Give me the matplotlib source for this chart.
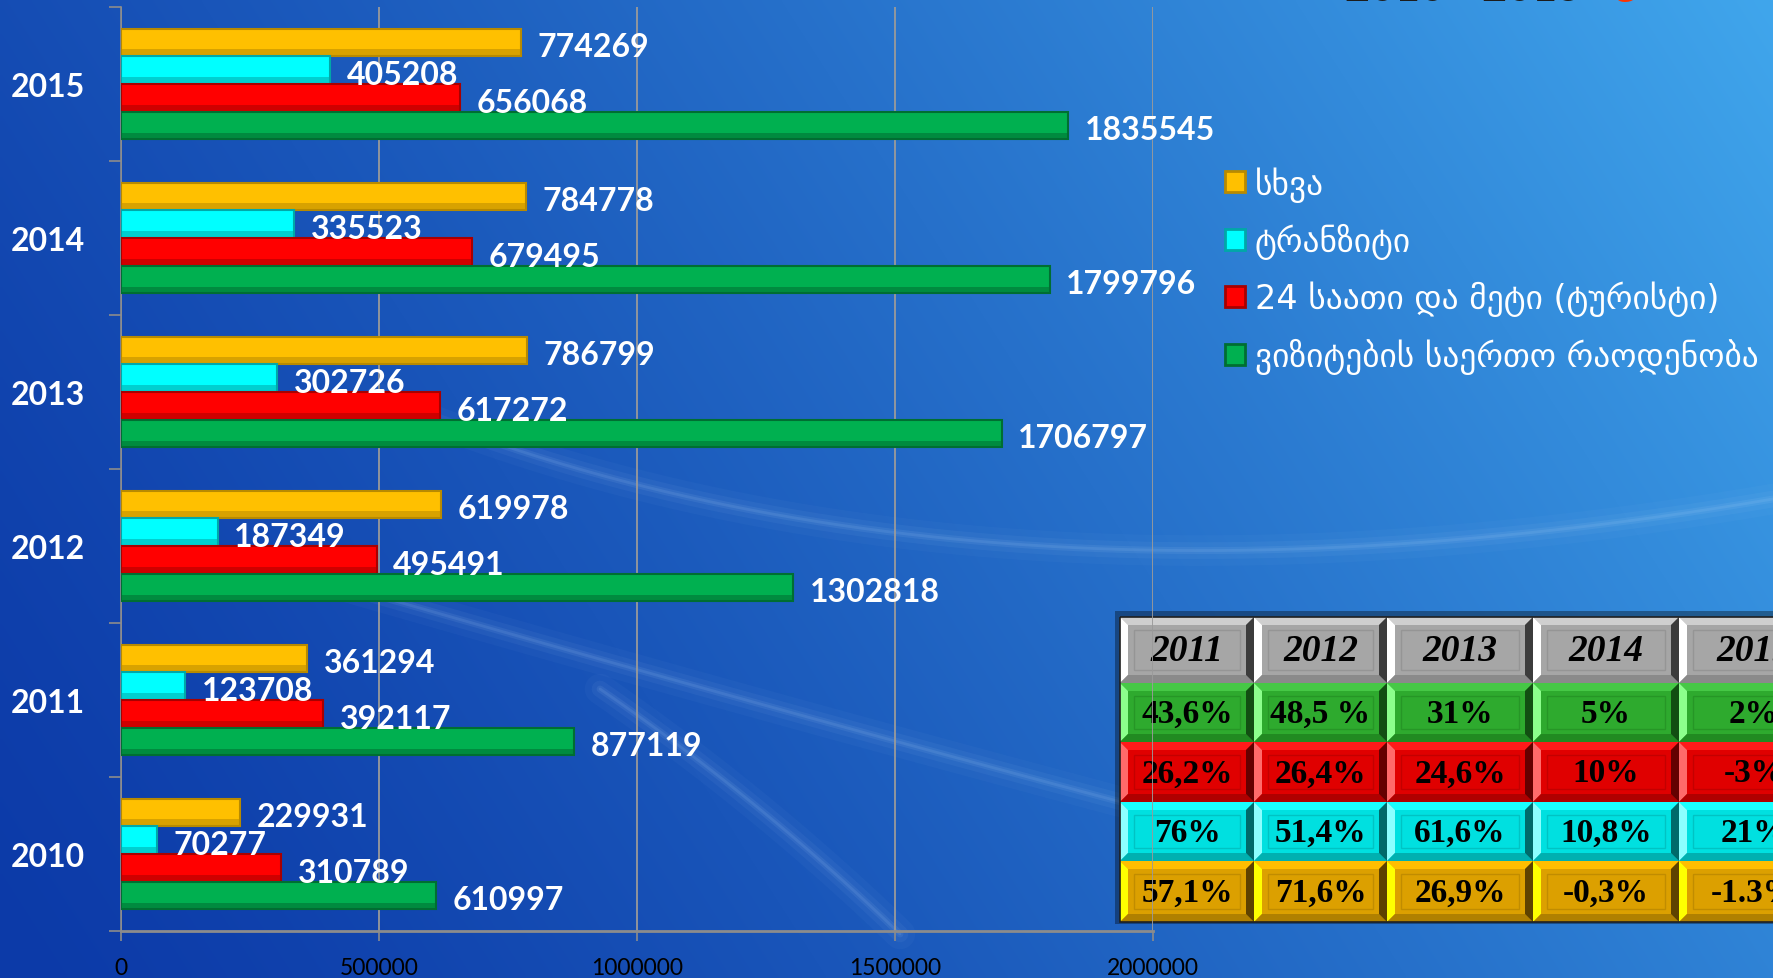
import numpy as np
import matplotlib.pyplot as plt
from matplotlib.patches import Polygon, Rectangle, Patch

W, H = 1773, 979

# chart data
years = ['2010', '2011', '2012', '2013', '2014', '2015']
other = [229931, 361294, 619978, 786799, 784778, 774269]
transit = [70277, 123708, 187349, 302726, 335523, 405208]
tourists = [310789, 392117, 495491, 617272, 679495, 656068]
total = [610997, 877119, 1302818, 1706797, 1799796, 1835545]

series_labels = ['სხვა', 'ტრანზიტი', '24 საათი და მეტი (ტურისტი)',
                 'ვიზიტების საერთო რაოდენობა']
x_ticks = [0, 500000, 1000000, 1500000, 2000000]

# growth table
table_years = ['2011', '2012', '2013', '2014', '2015']
growth_total = ['43,6%', '48,5 %', '31%', '5%', '2%']
growth_tourists = ['26,2%', '26,4%', '24,6%', '10%', '-3%']
growth_transit = ['76%', '51,4%', '61,6%', '10,8%', '21%']
growth_other = ['57,1%', '71,6%', '26,9%', '-0,3%', '-1.3%']

# face, darker edge / bottom bevel
bar_colors = {
    'other': ('#FFC000', '#B88A00'),
    'transit': ('#00FFFF', '#00A8A8'),
    'tourists': ('#FF0000', '#A80000'),
    'total': ('#00B050', '#006E32'),
}

fig = plt.figure(figsize=(W / 100, H / 100), dpi=100)

# ---- background: blue gradient with soft light streaks
bg = fig.add_axes([0, 0, 1, 1], zorder=0)
bg.set_xlim(0, W)
bg.set_ylim(H, 0)
bg.axis('off')
xx, yy = np.meshgrid(np.linspace(0, 1, 400), np.linspace(0, 1, 220))
t = np.clip((0.85 * xx + 0.3 * (1 - yy)) / 1.15, 0, 1) ** 1.3
c0 = np.array([12, 58, 168]) / 255
c1 = np.array([64, 166, 236]) / 255
bg.imshow(c0 + (c1 - c0) * t[..., None], extent=[0, W, H, 0],
          aspect='auto', interpolation='bilinear', zorder=0)

streaks = [((380, 400), (950, 640), (1773, 500)),
           ((250, 560), (800, 720), (1300, 850)),
           ((600, 690), (760, 800), (900, 935))]
s = np.linspace(0, 1, 60)[:, None]
for p0, p1, p2 in streaks:
    p0, p1, p2 = map(np.array, (p0, p1, p2))
    curve = (1 - s) ** 2 * p0 + 2 * (1 - s) * s * p1 + s ** 2 * p2
    for lw, a in [(22, 0.03), (12, 0.05), (5, 0.08), (2, 0.10)]:
        bg.plot(curve[:, 0], curve[:, 1], color='#bfe0ff', alpha=a, lw=lw,
                solid_capstyle='round', zorder=1)


# ---- growth table with bevelled cells
def bevel_cell(x0, y0, w, h, face, top, left, bottom, right, b=8):
    bg.add_patch(Rectangle((x0, y0), w, h, facecolor=face, edgecolor='none', zorder=3))
    bg.add_patch(Polygon([(x0, y0), (x0 + w, y0), (x0 + w - b, y0 + b), (x0 + b, y0 + b)],
                         facecolor=top, edgecolor='none', zorder=4))
    bg.add_patch(Polygon([(x0, y0), (x0 + b, y0 + b), (x0 + b, y0 + h - b), (x0, y0 + h)],
                         facecolor=left, edgecolor='none', zorder=4))
    bg.add_patch(Polygon([(x0, y0 + h), (x0 + b, y0 + h - b), (x0 + w - b, y0 + h - b), (x0 + w, y0 + h)],
                         facecolor=bottom, edgecolor='none', zorder=4))
    bg.add_patch(Polygon([(x0 + w, y0), (x0 + w, y0 + h), (x0 + w - b, y0 + h - b), (x0 + w - b, y0 + b)],
                         facecolor=right, edgecolor='none', zorder=4))
    bg.add_patch(Rectangle((x0 + 14, y0 + 13), w - 28, h - 26, facecolor='none',
                           edgecolor=bottom, lw=1, alpha=0.6, zorder=4))


row_styles = [
    ('#A6A6A6', '#CFCFCF', '#FFFFFF', '#8A8A8A', '#3C3C3C'),
    ('#2EAA2E', '#46C846', '#8CFF8C', '#218A21', '#124E12'),
    ('#E00000', '#FF1A1A', '#FF6A6A', '#B00000', '#640000'),
    ('#00E0E0', '#1AFFFF', '#8CFFFF', '#00B0B0', '#006A6A'),
    ('#DCA000', '#FFBE00', '#FFFF00', '#B08000', '#5E4200'),
]
table_rows = [table_years, growth_total, growth_tourists, growth_transit, growth_other]
col_w = [134, 133, 146, 146, 150]
row_h = [66, 59, 60, 59, 61]
tx0, ty0 = 1120, 618

bg.add_patch(Rectangle((tx0 - 5, ty0 - 6), sum(col_w) + 10, sum(row_h) + 8,
                       facecolor='black', alpha=0.35, edgecolor='none', zorder=2))
yc = ty0
for r, (vals, style) in enumerate(zip(table_rows, row_styles)):
    xc = tx0
    for c, val in enumerate(vals):
        bevel_cell(xc, yc, col_w[c], row_h[r], *style)
        if r == 0:
            bg.text(xc + col_w[c] / 2, yc + row_h[r] / 2 + 1, val, ha='center', va='center',
                    family='Liberation Serif', style='italic', weight='bold',
                    fontsize=27, color='black', zorder=5)
        else:
            bg.text(xc + col_w[c] / 2, yc + row_h[r] / 2 + 1, val, ha='center', va='center',
                    family='Liberation Serif', weight='bold', fontsize=24, color='black',
                    zorder=5)
        xc += col_w[c]
    yc += row_h[r]
bg.add_patch(Rectangle((tx0, ty0), sum(col_w), sum(row_h), facecolor='none',
                       edgecolor='#202020', lw=1.2, zorder=5))

# title fragment cut off at the top edge
fig.text(1345 / W, 1 - 1 / H, '2010 - 2015', family='Lato', weight='bold',
         fontsize=31, color='#1c1c1c', va='baseline')
fig.text(1610 / W, 1 - 1 / H, 'წ', family='DejaVu Sans', weight='bold',
         fontsize=40, color='#FF3300', va='baseline')

# ---- main bar chart
ax = fig.add_axes([121 / W, 1 - 932 / H, (1153 - 121) / W, (932 - 8) / H], zorder=2)
ax.patch.set_visible(False)

y = np.arange(len(years))
h = 0.18
series = [(other, 'other', 1.5), (transit, 'transit', 0.5),
          (tourists, 'tourists', -0.5), (total, 'total', -1.5)]
handles = []
for vals, key, off in series:
    face, dark = bar_colors[key]
    ax.barh(y + off * h, vals, height=h, color=face, edgecolor=dark,
            linewidth=1.5, zorder=3)
    ax.barh(y + off * h - h * 0.36, vals, height=h * 0.22, color=dark,
            linewidth=0, alpha=0.55, zorder=4)
    for yi, v in zip(y + off * h, vals):
        ax.annotate(str(v), (v, yi), xytext=(12, -3), textcoords='offset points',
                    ha='left', va='center', color='white', family='Lato',
                    weight='bold', fontsize=23, zorder=5)
    handles.append(Patch(facecolor=face, edgecolor=dark, linewidth=2))

ax.set_xlim(0, 2000000)
ax.set_ylim(-0.5, 5.5)
ax.set_xticks(x_ticks)
ax.set_xticklabels([str(v) for v in x_ticks], family='Lato', fontsize=16.5, color='black')
ax.set_yticks(np.arange(-0.5, 6, 1))
ax.set_yticklabels([])
ax.set_yticks(y, minor=True)
ax.set_yticklabels(years, minor=True, family='Lato', weight='bold', fontsize=23, color='white')
ax.tick_params(axis='y', which='minor', length=0, pad=26)
ax.tick_params(axis='y', which='major', length=9, width=1.2, color='#8C8C8C')
ax.tick_params(axis='x', length=7, width=1.2, color='#8C8C8C', pad=12)
ax.grid(axis='x', color='#9A9A9A', lw=1.3)
ax.set_axisbelow(True)
for sp in ['top', 'right']:
    ax.spines[sp].set_visible(False)
ax.spines['left'].set_color('#8C8C8C')
ax.spines['left'].set_linewidth(1.2)
ax.spines['bottom'].set_color('#8C8C8C')
ax.spines['bottom'].set_linewidth(2)

fig.legend(handles, series_labels, loc='upper left', bbox_to_anchor=(1225 / W, 1 - 167 / H),
           frameon=False, borderpad=0, borderaxespad=0, handlelength=0.6, handleheight=0.6,
           handletextpad=0.3, labelspacing=0.65, labelcolor='white',
           prop={'family': 'DejaVu Sans', 'size': 24})

fig.savefig('out.png', dpi=100)
